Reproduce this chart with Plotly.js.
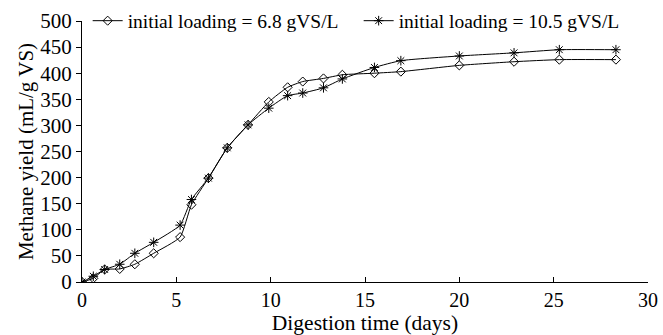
<!DOCTYPE html>
<html>
<head>
<meta charset="utf-8">
<script src="https://cdn.plot.ly/plotly-3.0.1.min.js"></script>
<style>html,body{margin:0;padding:0;background:#fff;}#chart{width:663px;height:335px;}</style>
</head>
<body>
<div id="chart"></div>
<script>
// Digestion time (days)
const days = [0, 0.6, 1.2, 2, 2.8, 3.8, 5.2, 5.8, 6.7, 7.7, 8.8, 9.9, 10.9, 11.7, 12.8, 13.8, 15.5, 16.9, 20, 22.9, 25.3, 28.3];
// Methane yield (mL/g VS)
const yieldLow  = [0, 7, 24, 25, 34, 55, 86, 148, 199, 257, 301, 345, 373, 384, 390, 397, 400, 403, 415, 422, 426, 426];
const yieldHigh = [0, 11, 24, 34, 55, 76, 109, 158, 199, 257, 301, 333, 357, 362, 372, 389, 411, 424, 433, 439, 445, 445];
const seriesNames = ["initial loading = 6.8 gVS/L", "initial loading = 10.5 gVS/L"];

const FAM = "Liberation Serif";
function f(size) { return {family: FAM, size: size, color: "#000"}; }

const traces = [
  {x: days, y: yieldLow, name: seriesNames[0], type: "scatter", mode: "lines+markers",
   line: {color: "#000", width: 1, shape: "spline", smoothing: 0.5},
   marker: {symbol: "diamond-open", size: 7, color: "#000", line: {width: 1, color: "#000"}}},
  {x: days, y: yieldHigh, name: seriesNames[1], type: "scatter", mode: "lines+markers",
   line: {color: "#000", width: 1, shape: "spline", smoothing: 0.5},
   marker: {symbol: "asterisk-open", size: 8, color: "#000", line: {width: 1, color: "#000"}}}
];

const layout = {
  width: 663, height: 335,
  margin: {l: 82, r: 15, t: 21, b: 53, autoexpand: false},
  paper_bgcolor: "#fff", plot_bgcolor: "#fff",
  font: f(20),
  showlegend: true,
  legend: {orientation: "h", x: 0.01, xanchor: "left", y: 1.0, yanchor: "middle",
           font: f(19.5), bgcolor: "rgba(0,0,0,0)", itemwidth: 30,
           entrywidthmode: "pixels", entrywidth: 226},
  xaxis: {range: [0, 30], dtick: 5, tick0: 0, ticks: "inside", ticklen: 5, tickcolor: "#000",
          showline: true, linecolor: "#000", linewidth: 1, showgrid: false, zeroline: false,
          automargin: false,
          tickfont: f(20), title: {text: "Digestion time (days)", font: f(21.5), standoff: 1}},
  yaxis: {range: [0, 500], dtick: 50, tick0: 0, ticks: "outside", ticklen: 5, tickcolor: "#000",
          showline: true, linecolor: "#000", linewidth: 1, showgrid: false, zeroline: false,
          automargin: false,
          tickfont: f(21), title: {text: "Methane yield (mL/g VS)", font: f(21), standoff: 0}}
};

Plotly.newPlot("chart", traces, layout, {displayModeBar: false, staticPlot: true});
</script>
</body>
</html>
